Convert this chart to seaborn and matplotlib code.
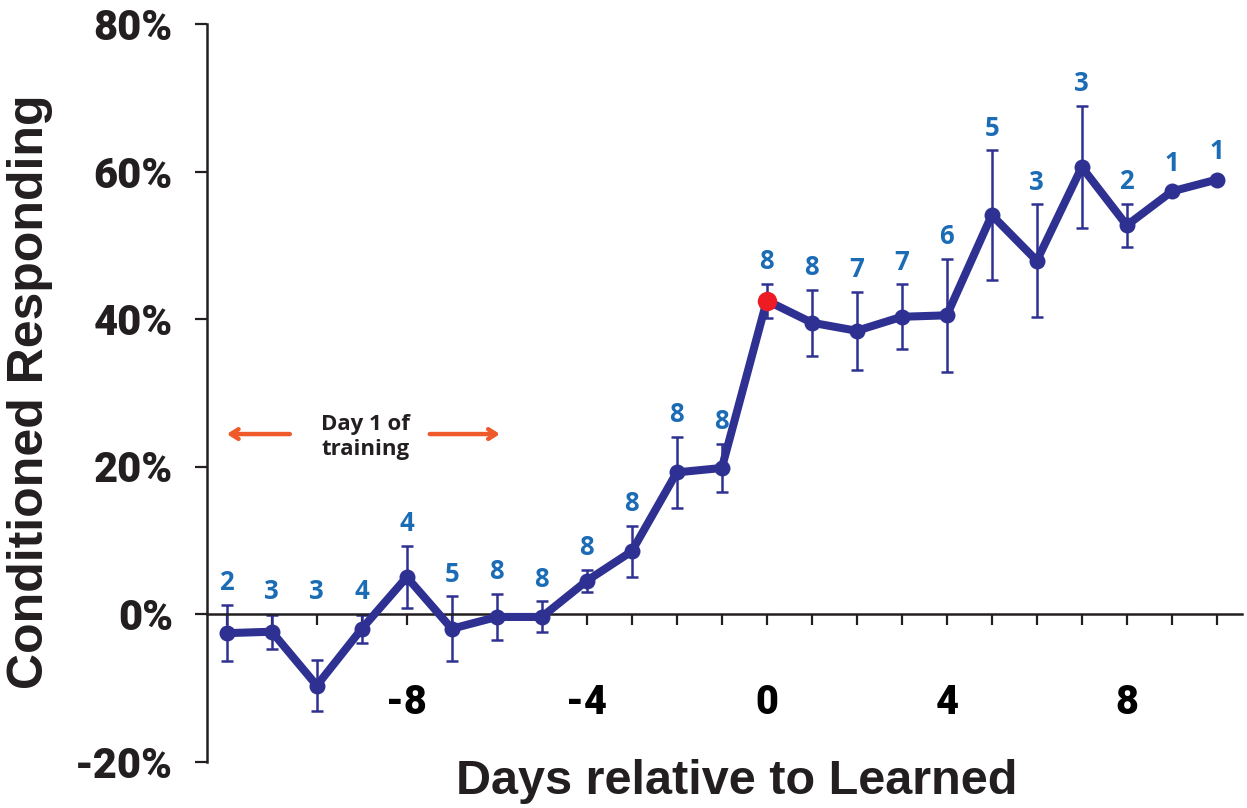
import matplotlib
matplotlib.use("Agg")
import matplotlib.pyplot as plt
import seaborn as sns
import pandas as pd
import numpy as np

# Days relative to the "Learned" day
days = [-12, -11, -10, -9, -8, -7, -6, -5, -4, -3, -2, -1,
        0, 1, 2, 3, 4, 5, 6, 7, 8, 9, 10]
# Mean conditioned responding (%)
responding = [-2.6, -2.4, -9.7, -2.0, 5.0, -2.0, -0.4, -0.4, 4.5, 8.5, 19.2, 19.8,
              42.5, 39.5, 38.4, 40.3, 40.5, 54.1, 47.9, 60.6, 52.7, 57.3, 58.9]
# Standard error (%)
sem = [3.8, 2.3, 3.5, 1.9, 4.2, 4.4, 3.1, 2.1, 1.5, 3.5, 4.8, 3.3,
       2.3, 4.5, 5.3, 4.4, 7.65, 8.75, 7.65, 8.3, 2.9, 0.0, 0.0]
# Number of subjects contributing to each day
n_subjects = [2, 3, 3, 4, 4, 5, 8, 8, 8, 8, 8, 8,
              8, 8, 7, 7, 6, 5, 3, 3, 2, 1, 1]

y_ticks = [-20, 0, 20, 40, 60, 80]
x_tick_labels = [-8, -4, 0, 4, 8]

df = pd.DataFrame({"day": days, "cr": responding, "sem": sem, "n": n_subjects})

NAVY = "#2e3192"
RED = "#ed1c24"
BLUE = "#1b6cb5"
ORANGE = "#ef5a2b"
INK = "#231f20"

sns.set_style("white")
plt.rcParams["font.family"] = ["Liberation Sans", "DejaVu Sans"]

fig = plt.figure(figsize=(12.47, 8.08), dpi=100)
ax = fig.add_axes([207 / 1247, 1 - 761.5 / 808, 1035 / 1247, 737.5 / 808])

# error bars
ax.errorbar(df["day"], df["cr"], yerr=df["sem"], fmt="none", ecolor=NAVY,
            elinewidth=1.8, capsize=4.3, capthick=1.8, zorder=2)

# mean line with markers
sns.lineplot(data=df, x="day", y="cr", ax=ax, color=NAVY, linewidth=5.8,
             marker="o", markersize=11.5, markeredgewidth=0, zorder=3)

# learned day highlighted
learned = df[df["day"] == 0]
ax.plot(learned["day"], learned["cr"], "o", color=RED, markersize=14,
        markeredgewidth=0, zorder=4)

# n labels above each point
for d, m, e, n in zip(days, responding, sem, n_subjects):
    anchor = max(m + e, 0.0)
    off = 16 if e > 0 else 20
    ax.annotate(str(n), (d, anchor), xytext=(0, off), textcoords="offset points",
                ha="center", va="center", color=BLUE, fontsize=18.5,
                fontweight="bold", family=["Open Sans", "DejaVu Sans"])

# "Day 1 of training" annotation with arrows
ax.text(-8.91, 24.0, "Day 1 of\ntraining", ha="center", va="center",
        fontsize=16, fontweight="bold", color=INK, linespacing=1.25,
        family=["Open Sans", "DejaVu Sans"])
arrow_kw = dict(arrowstyle="->,head_length=0.55,head_width=0.35",
                color=ORANGE, lw=3.2, shrinkA=0, shrinkB=0)
ax.annotate("", xy=(-12.0, 24.4), xytext=(-10.6, 24.4), arrowprops=arrow_kw)
ax.annotate("", xy=(-5.93, 24.4), xytext=(-7.49, 24.4), arrowprops=arrow_kw)

# axes
ax.set_xlim(-12.44, 10.56)
ax.set_ylim(-20, 80)
ax.set_xticks(range(-12, 11))
ax.set_xticklabels([str(t) if t in x_tick_labels else "" for t in range(-12, 11)])
ax.set_yticks(y_ticks)
ax.set_yticklabels([f"{t}%" for t in y_ticks])

for s in ["top", "right"]:
    ax.spines[s].set_visible(False)
ax.spines["bottom"].set_position(("data", 0))
for s in ["left", "bottom"]:
    ax.spines[s].set_linewidth(1.8)
    ax.spines[s].set_color(INK)

ax.tick_params(axis="x", bottom=True, direction="out", length=8, width=1.6,
               color=INK, pad=42, labelsize=28.5, labelcolor="black")
ax.tick_params(axis="y", left=True, direction="out", length=8.5, width=1.6,
               color=INK, pad=16, labelsize=30, labelcolor=INK)
for lab in ax.get_xticklabels() + ax.get_yticklabels():
    lab.set_family(["Roboto", "Liberation Sans", "DejaVu Sans"])
    lab.set_fontweight("black")

ax.set_xlabel("")
ax.set_ylabel("")
fig.text(30 / 1247, 1 - 392 / 808, "Conditioned Responding", rotation=90,
         ha="center", va="center", fontsize=36, fontweight="bold", color=INK)
fig.text(737 / 1247, 1 - 781 / 808, "Days relative to Learned",
         ha="center", va="center", fontsize=35, fontweight="bold", color=INK)

fig.savefig("out.png", dpi=100)
